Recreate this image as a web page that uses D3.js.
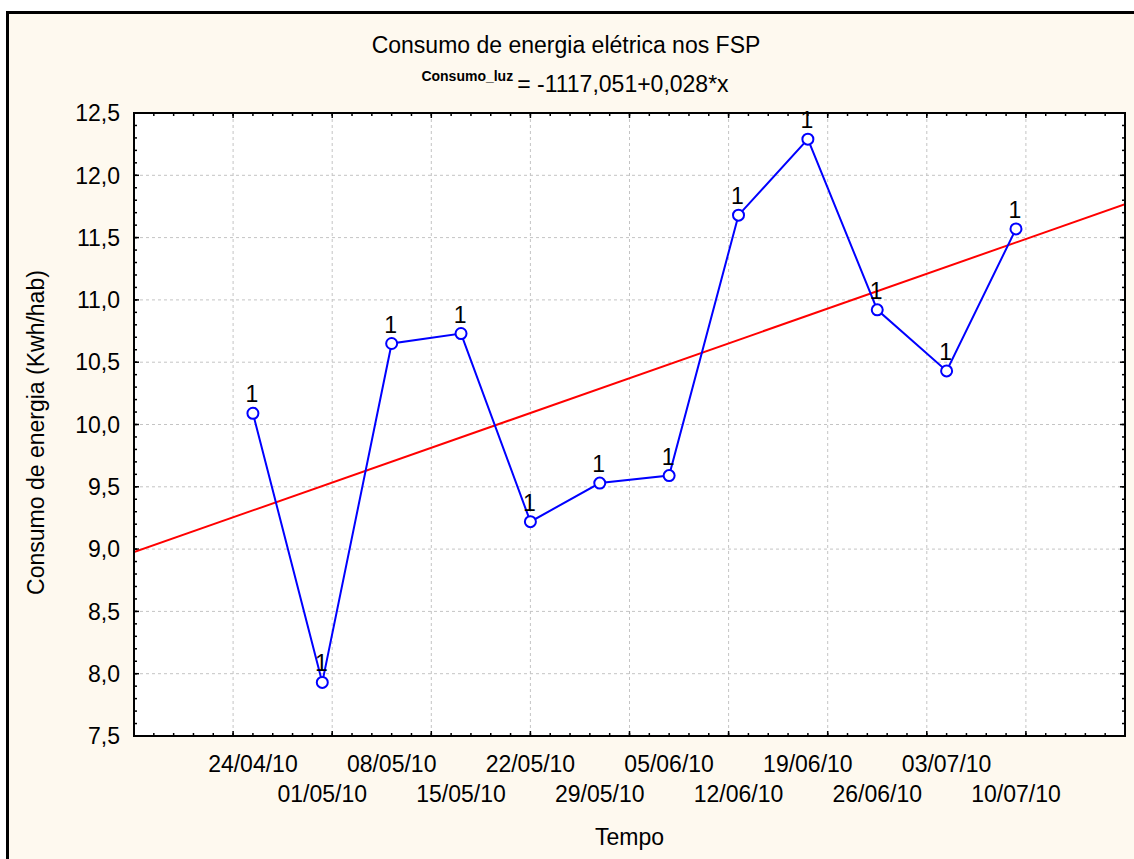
<!DOCTYPE html>
<html>
<head>
<meta charset="utf-8">
<script src="https://cdn.jsdelivr.net/npm/d3@7"></script>
<style>
  body { margin: 0; background: #fff; }
  svg { display: block; font-family: Arial, "Liberation Sans", sans-serif; }
</style>
</head>
<body>
<script>
// weekly readings (date labels as on the axis)
var datas = ["24/04/10", "01/05/10", "08/05/10", "15/05/10", "22/05/10", "29/05/10",
             "05/06/10", "12/06/10", "19/06/10", "26/06/10", "03/07/10", "10/07/10"];
var consumo = [10.09, 7.93, 10.65, 10.73, 9.22, 9.53, 9.59, 11.68, 12.29, 10.92, 10.43, 11.57];
var rotulos = ["1", "1", "1", "1", "1", "1", "1", "1", "1", "1", "1", "1"];

// axis ranges / ticks
var xRange = ["12/04/10", "21/07/10"];
var yTicks = [7.5, 8.0, 8.5, 9.0, 9.5, 10.0, 10.5, 11.0, 11.5, 12.0, 12.5];

var width = 1134, height = 859;
var margin = {top: 113, right: 9, bottom: 123, left: 134},
    plotW = width - margin.left - margin.right,
    plotH = height - margin.top - margin.bottom;

var parse = d3.utcParse("%d/%m/%y");
var fmt = d3.formatLocale({decimal: ",", thousands: ".", grouping: [3], currency: ["", ""]}).format(".1f");

var data = datas.map(function(d, i) {
  return {date: parse(d), label: d, value: consumo[i], txt: rotulos[i]};
});

var x = d3.scaleUtc()
    .domain(xRange.map(parse))
    .range([0, plotW]);

var y = d3.scaleLinear()
    .domain([yTicks[0], yTicks[yTicks.length - 1]])
    .range([plotH, 0]);

var svg = d3.select("body").append("svg")
    .attr("width", width)
    .attr("height", height);

// figure background + frame
svg.append("rect")
    .attr("x", 7.5).attr("y", 12.5)
    .attr("width", width + 20).attr("height", height + 20)
    .attr("fill", "#fef9ef")
    .attr("stroke", "#000")
    .attr("stroke-width", 3);

// titles
svg.append("text")
    .attr("x", 566).attr("y", 53)
    .attr("text-anchor", "middle")
    .style("font-size", "23px")
    .text("Consumo de energia elétrica nos FSP");

var eq = svg.append("text")
    .attr("x", 575).attr("y", 92)
    .attr("text-anchor", "middle");
eq.append("tspan")
    .attr("dy", "-11")
    .style("font-size", "14px")
    .style("font-weight", "bold")
    .text("Consumo_luz");
eq.append("tspan")
    .attr("dy", "11")
    .attr("dx", "4")
    .style("font-size", "23px")
    .text("= -1117,051+0,028*x");

var g = svg.append("g")
    .attr("transform", "translate(" + margin.left + "," + margin.top + ")");

g.append("rect")
    .attr("width", plotW).attr("height", plotH)
    .attr("fill", "#fff");

// grid (every 10 days / every 0,5)
var day = 24 * 3600 * 1000;
var x0 = x.domain()[0];
var gridX = d3.range(1, 10).map(function(k) { return new Date(+x0 + k * 10 * day); });
var minorX = d3.range(1, 50).map(function(k) { return new Date(+x0 + k * 2 * day); });
var minorY = d3.range(1, 50).map(function(k) { return 7.5 + k * 0.1; });

g.selectAll(".gx").data(gridX).enter().append("line")
    .attr("x1", function(d) { return x(d); }).attr("x2", function(d) { return x(d); })
    .attr("y1", 0).attr("y2", plotH)
    .attr("stroke", "#c4c4c4").attr("stroke-dasharray", "3,3");

g.selectAll(".gy").data(yTicks.slice(1, -1)).enter().append("line")
    .attr("x1", 0).attr("x2", plotW)
    .attr("y1", function(d) { return y(d); }).attr("y2", function(d) { return y(d); })
    .attr("stroke", "#c4c4c4").attr("stroke-dasharray", "3,3");

// ticks pointing inwards on all four sides
function xTicks(sel, list, len, yPos, dir) {
  sel.selectAll(null).data(list).enter().append("line")
    .attr("x1", function(d) { return x(d); }).attr("x2", function(d) { return x(d); })
    .attr("y1", yPos).attr("y2", yPos + dir * len)
    .attr("stroke", "#000").attr("stroke-width", 1.5);
}
function yTickMarks(sel, list, len, xPos, dir) {
  sel.selectAll(null).data(list).enter().append("line")
    .attr("y1", function(d) { return y(d); }).attr("y2", function(d) { return y(d); })
    .attr("x1", xPos).attr("x2", xPos + dir * len)
    .attr("stroke", "#000").attr("stroke-width", 1.5);
}
xTicks(g, minorX, 3, 0, 1);
xTicks(g, minorX, 3, plotH, -1);
xTicks(g, gridX, 5, 0, 1);
xTicks(g, gridX, 5, plotH, -1);
yTickMarks(g, minorY, 3, 0, 1);
yTickMarks(g, minorY, 3, plotW, -1);
yTickMarks(g, yTicks, 5, 0, 1);
yTickMarks(g, yTicks, 5, plotW, -1);

// y tick labels
g.selectAll(".yl").data(yTicks).enter().append("text")
    .attr("x", -14)
    .attr("y", function(d) { return y(d); })
    .attr("dy", "0.36em")
    .attr("text-anchor", "end")
    .style("font-size", "23px")
    .text(function(d) { return fmt(d); });

// x tick labels, two staggered rows
g.selectAll(".xl").data(data).enter().append("text")
    .attr("x", function(d) { return x(d.date); })
    .attr("y", function(d, i) { return plotH + (i % 2 === 0 ? 36 : 66); })
    .attr("text-anchor", "middle")
    .style("font-size", "23px")
    .text(function(d) { return d.label; });

// axis titles
svg.append("text")
    .attr("x", margin.left + plotW / 2).attr("y", 845)
    .attr("text-anchor", "middle")
    .style("font-size", "23px")
    .text("Tempo");

svg.append("text")
    .attr("transform", "translate(44," + (margin.top + plotH / 2 + 8) + ") rotate(-90)")
    .attr("text-anchor", "middle")
    .style("font-size", "23px")
    .text("Consumo de energia (Kwh/hab)");

// clip for lines
svg.append("clipPath").attr("id", "clip")
  .append("rect").attr("width", plotW).attr("height", plotH);

// linear fit (least squares on days)
var ts = data.map(function(d) { return (d.date - x0) / day; });
var mt = d3.mean(ts), mv = d3.mean(consumo);
var sxy = d3.sum(ts, function(t, i) { return (t - mt) * (consumo[i] - mv); });
var sxx = d3.sum(ts, function(t) { return (t - mt) * (t - mt); });
var slope = sxy / sxx, icpt = mv - slope * mt;
var fit = x.domain().map(function(d) {
  var t = (d - x0) / day;
  return {date: d, value: icpt + slope * t};
});

var line = d3.line()
    .x(function(d) { return x(d.date); })
    .y(function(d) { return y(d.value); });

g.append("path")
    .datum(fit)
    .attr("clip-path", "url(#clip)")
    .attr("d", line)
    .attr("fill", "none")
    .attr("stroke", "#ff0000")
    .attr("stroke-width", 2);

g.append("path")
    .datum(data)
    .attr("d", line)
    .attr("fill", "none")
    .attr("stroke", "#0000ff")
    .attr("stroke-width", 2);

g.selectAll(".pt").data(data).enter().append("circle")
    .attr("cx", function(d) { return x(d.date); })
    .attr("cy", function(d) { return y(d.value); })
    .attr("r", 5.5)
    .attr("fill", "#fff")
    .attr("stroke", "#0000ff")
    .attr("stroke-width", 2);

g.selectAll(".lb").data(data).enter().append("text")
    .attr("x", function(d) { return x(d.date) - 1; })
    .attr("y", function(d) { return y(d.value) - 11; })
    .attr("text-anchor", "middle")
    .style("font-size", "23px")
    .text(function(d) { return d.txt; });

// frame of plot area
g.append("rect")
    .attr("width", plotW).attr("height", plotH)
    .attr("fill", "none")
    .attr("stroke", "#000")
    .attr("stroke-width", 2);
</script>
</body>
</html>
